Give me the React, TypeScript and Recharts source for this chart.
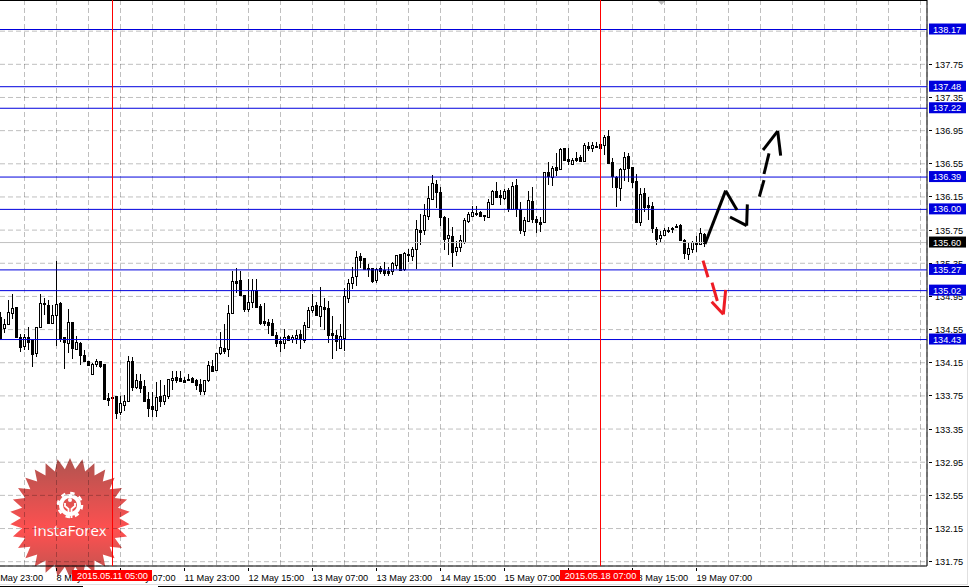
import { Bar, CartesianGrid, ComposedChart, ReferenceLine, XAxis, YAxis } from 'recharts'

const opens = [
  134.697, 134.572, 134.616, 134.745, 134.821, 134.456, 134.355, 134.456, 134.423, 134.271,
  134.584, 134.870, 134.846, 134.632, 134.729, 134.870, 134.456, 134.391, 134.636, 134.319,
  134.383, 134.242, 134.170, 134.017, 134.138, 134.166, 134.130, 133.724, 133.740, 133.748,
  133.559, 133.643, 133.692, 134.166, 133.857, 133.929, 133.869, 133.708, 133.623, 133.583,
  133.744, 133.692, 133.752, 133.937, 133.973, 133.961, 133.937, 133.953, 133.961, 133.937,
  133.893, 133.812, 133.945, 134.110, 134.066, 134.271, 134.323, 134.311, 134.745, 135.135,
  135.147, 134.966, 134.801, 134.886, 135.022, 134.833, 134.653, 134.636, 134.624, 134.480,
  134.407, 134.391, 134.468, 134.431, 134.448, 134.496, 134.419, 134.584, 134.789, 134.846,
  134.717, 134.817, 134.805, 134.504, 134.480, 134.327, 134.448, 134.934, 135.115, 135.191,
  135.432, 135.408, 135.292, 135.288, 135.151, 135.288, 135.264, 135.252, 135.252, 135.328,
  135.461, 135.276, 135.465, 135.436, 135.518, 135.751, 135.747, 135.924, 136.129, 136.306,
  136.210, 135.904, 135.659, 135.675, 135.502, 135.546, 135.611, 135.860, 135.924, 135.952,
  135.964, 135.928, 135.912, 136.069, 136.222, 136.170, 136.137, 136.238, 136.005, 136.290,
  136.005, 135.743, 135.864, 136.097, 135.884, 135.844, 135.844, 136.447, 136.387, 136.511,
  136.491, 136.740, 136.608, 136.551, 136.620, 136.628, 136.588, 136.764, 136.744, 136.764,
  136.785, 136.772, 136.885, 136.568, 136.395, 136.262, 136.491, 136.644, 136.507, 136.338,
  135.844, 136.194, 136.049, 136.037, 135.763, 135.651, 135.691, 135.755, 135.771, 135.804,
  135.812, 135.631, 135.462, 135.522, 135.595, 135.583, 135.707,
]

const closes = [
  134.452, 134.612, 134.757, 134.805, 134.460, 134.343, 134.456, 134.403, 134.259, 134.576,
  134.866, 134.854, 134.632, 134.721, 134.854, 134.452, 134.403, 134.636, 134.331, 134.395,
  134.247, 134.170, 134.122, 134.130, 134.166, 134.114, 133.712, 133.700, 133.732, 133.547,
  133.660, 133.684, 134.166, 133.861, 133.937, 133.845, 133.692, 133.603, 133.595, 133.732,
  133.692, 133.756, 133.949, 133.961, 133.945, 133.933, 133.921, 133.941, 133.921, 133.877,
  133.808, 133.937, 134.118, 134.054, 134.263, 134.335, 134.295, 134.745, 135.135, 135.115,
  134.970, 134.797, 134.882, 135.030, 134.825, 134.632, 134.628, 134.608, 134.488, 134.391,
  134.387, 134.456, 134.423, 134.456, 134.480, 134.435, 134.600, 134.781, 134.829, 134.729,
  134.829, 134.801, 134.488, 134.488, 134.415, 134.468, 134.954, 135.107, 135.183, 135.420,
  135.388, 135.276, 135.284, 135.139, 135.280, 135.260, 135.235, 135.235, 135.348, 135.444,
  135.268, 135.473, 135.457, 135.517, 135.759, 135.731, 135.928, 136.141, 136.314, 136.214,
  135.912, 135.647, 135.687, 135.490, 135.542, 135.627, 135.872, 135.940, 135.964, 135.944,
  135.920, 135.920, 136.085, 136.222, 136.153, 136.153, 136.218, 136.001, 136.278, 136.009,
  135.751, 135.868, 136.109, 135.888, 135.852, 135.828, 136.447, 136.403, 136.499, 136.479,
  136.724, 136.596, 136.588, 136.592, 136.596, 136.580, 136.772, 136.744, 136.772, 136.748,
  136.744, 136.869, 136.563, 136.403, 136.274, 136.487, 136.628, 136.499, 136.334, 135.848,
  136.182, 136.025, 136.033, 135.771, 135.639, 135.687, 135.747, 135.743, 135.759, 135.792,
  135.631, 135.478, 135.534, 135.603, 135.579, 135.711, 135.591,
]

const highs = [
  134.757, 134.673, 134.906, 134.974, 134.821, 134.496, 134.496, 134.584, 134.423, 134.584,
  134.974, 134.926, 134.906, 134.846, 135.376, 134.886, 134.456, 134.793, 134.636, 134.476,
  134.403, 134.303, 134.170, 134.142, 134.190, 134.174, 134.130, 133.780, 133.740, 133.748,
  133.748, 133.760, 134.230, 134.214, 134.013, 134.013, 133.941, 133.792, 133.792, 133.921,
  133.941, 133.881, 133.949, 134.050, 134.050, 134.050, 133.973, 134.009, 133.981, 133.949,
  133.949, 133.945, 134.174, 134.182, 134.263, 134.524, 134.616, 134.846, 135.256, 135.288,
  135.252, 134.966, 135.159, 135.159, 135.159, 134.858, 134.866, 134.673, 134.673, 134.520,
  134.464, 134.552, 134.480, 134.480, 134.544, 134.544, 134.636, 134.821, 134.974, 134.878,
  135.063, 134.926, 134.898, 134.713, 134.544, 134.612, 135.047, 135.155, 135.300, 135.493,
  135.477, 135.408, 135.336, 135.288, 135.292, 135.312, 135.360, 135.308, 135.368, 135.444,
  135.461, 135.489, 135.521, 135.549, 135.872, 135.940, 136.061, 136.282, 136.411, 136.354,
  136.274, 135.920, 135.892, 135.792, 135.623, 135.691, 135.892, 135.964, 136.041, 136.041,
  135.985, 135.928, 136.121, 136.234, 136.330, 136.234, 136.246, 136.254, 136.334, 136.366,
  136.093, 135.912, 136.226, 136.266, 135.920, 135.912, 136.447, 136.576, 136.527, 136.684,
  136.736, 136.744, 136.736, 136.624, 136.688, 136.656, 136.805, 136.809, 136.813, 136.813,
  136.785, 136.897, 136.957, 136.616, 136.403, 136.495, 136.688, 136.676, 136.507, 136.423,
  136.254, 136.254, 136.145, 136.093, 135.784, 135.743, 135.771, 135.784, 135.792, 135.824,
  135.824, 135.639, 135.599, 135.615, 135.679, 135.771, 135.711,
]

const lows = [
  134.423, 134.504, 134.604, 134.677, 134.444, 134.283, 134.303, 134.303, 134.102, 134.222,
  134.584, 134.725, 134.632, 134.632, 134.355, 134.403, 134.078, 134.263, 134.198, 134.303,
  134.126, 134.158, 134.110, 134.017, 134.102, 134.090, 133.700, 133.631, 133.732, 133.471,
  133.515, 133.567, 133.692, 133.804, 133.828, 133.780, 133.684, 133.499, 133.499, 133.499,
  133.611, 133.639, 133.712, 133.820, 133.901, 133.917, 133.917, 133.929, 133.921, 133.820,
  133.760, 133.760, 133.917, 134.042, 134.062, 134.238, 134.255, 134.222, 134.745, 134.994,
  134.970, 134.757, 134.761, 134.805, 134.805, 134.604, 134.592, 134.492, 134.480, 134.343,
  134.275, 134.315, 134.415, 134.383, 134.375, 134.319, 134.383, 134.584, 134.753, 134.721,
  134.580, 134.544, 134.391, 134.194, 134.295, 134.315, 134.291, 134.874, 135.038, 135.075,
  135.296, 135.268, 135.187, 135.107, 135.115, 135.219, 135.199, 135.199, 135.207, 135.276,
  135.256, 135.260, 135.364, 135.372, 135.277, 135.570, 135.691, 135.872, 136.129, 136.017,
  135.800, 135.510, 135.454, 135.309, 135.438, 135.490, 135.579, 135.840, 135.912, 135.920,
  135.912, 135.864, 135.912, 136.057, 136.145, 136.057, 136.113, 135.972, 135.993, 135.912,
  135.703, 135.683, 135.860, 135.832, 135.719, 135.731, 135.840, 136.294, 136.286, 136.403,
  136.487, 136.588, 136.535, 136.531, 136.576, 136.568, 136.576, 136.708, 136.696, 136.748,
  136.744, 136.656, 136.563, 136.254, 136.033, 136.101, 136.342, 136.326, 136.254, 135.840,
  135.804, 135.972, 135.872, 135.719, 135.574, 135.599, 135.683, 135.711, 135.711, 135.771,
  135.623, 135.406, 135.390, 135.470, 135.486, 135.583, 135.546,
]

const priceTicks = [
  131.75, 132.15, 132.55, 132.95, 133.35, 133.75, 134.15, 134.55, 134.95,
  135.35, 135.75, 136.15, 136.55, 136.95, 137.35, 137.75, 138.15,
]
// the 138.15 label sits fully under the 138.17 tag on the original
const unlabelledPrices = [138.15]
const barTicks = [
  -2, 6, 14, 22, 30, 38, 46, 54, 62, 70, 78, 86, 94, 102, 110, 118, 126, 134, 142, 150,
  158, 166, 174, 182, 190, 198, 206, 214, 222, 230,
]
// 142 keeps its tick mark but its label is hidden by the red time tag
const timeLabels: Record<number, string> = {
  [-2]: '7 May 23:00',
  14: '8 May 15:00',
  30: '11 May 07:00',
  46: '11 May 23:00',
  62: '12 May 15:00',
  78: '13 May 07:00',
  94: '13 May 23:00',
  110: '14 May 15:00',
  126: '15 May 07:00',
  142: '',
  158: '18 May 15:00',
  174: '19 May 07:00',
}

const levels = [138.17, 137.48, 137.22, 136.39, 136.0, 135.27, 135.02, 134.43]
const lastPrice = 135.6
const markers = [
  { bar: 28, text: '2015.05.11 05:00' },
  { bar: 150, text: '2015.05.18 07:00' },
]

// hand drawn arrows: [bar, price] per pen stroke
const blackStrokes = [
  [[176.125, 135.583], [181.29, 136.226], [184.125, 135.993]],
  [[182.375, 135.908], [186.54, 135.804], [186.71, 136.061]],
  [[189.71, 136.153], [190.875, 136.354]],
  [[190.875, 136.427], [192.125, 136.676]],
  [[190.625, 136.716], [194.29, 136.945], [195.04, 136.648]],
]
const redStrokes = [
  [[175.625, 135.382], [176.875, 135.181]],
  [[177.875, 135.116], [179.21, 134.895]],
  [[177.79, 134.887], [180.71, 134.734], [181.29, 135.028]],
]

const data = opens.map((open, i) => ({ i, open, close: closes[i], high: highs[i], low: lows[i] }))

const FONT = '"Liberation Sans", Arial, sans-serif'
const BLUE = '#0000dd'
const X_DOMAIN: [number, number] = [-2.125, 231.625]
const Y_DOMAIN: [number, number] = [131.698, 138.526]

const Candle = (props: any) => {
  const { x, y, width, height, payload } = props
  const top = Math.min(y, y + height)
  const h = Math.abs(height)
  const perUnit = h / (payload.high - payload.low)
  const cx = Math.round(x + width / 2 - 0.5) + 0.5
  const up = payload.close >= payload.open
  const bodyTop = Math.round(top + (payload.high - Math.max(payload.open, payload.close)) * perUnit) + 0.5
  const bodyBottom = Math.round(top + (payload.high - Math.min(payload.open, payload.close)) * perUnit) + 0.5
  return (
    <g shapeRendering="crispEdges">
      <line x1={cx} x2={cx} y1={top} y2={top + h} stroke="#000" />
      <rect
        x={cx - 1}
        y={bodyTop}
        width={2}
        height={Math.max(bodyBottom - bodyTop, 1)}
        fill={up ? '#fff' : '#000'}
        stroke="#000"
      />
    </g>
  )
}

const PriceTick = (props: any) => {
  const { x, y, payload } = props
  return (
    <g>
      <line x1={x} x2={x + 3} y1={y} y2={y} stroke="#000" shapeRendering="crispEdges" />
      {!unlabelledPrices.includes(payload.value) && (
        <text x={x + 6} y={y + 3.5} fontSize={9.2} fontFamily={FONT} fill="#000">
          {payload.value.toFixed(2)}
        </text>
      )}
    </g>
  )
}

const TimeTick = (props: any) => {
  const { x, y, payload } = props
  const text = timeLabels[payload.value]
  if (text === undefined) return <g />
  return (
    <g>
      <line x1={x} x2={x} y1={y} y2={y + 3} stroke="#000" shapeRendering="crispEdges" />
      {text && (
        <text x={x} y={y + 12.5} fontSize={9.2} fontFamily={FONT} fill="#000">
          {text}
        </text>
      )}
    </g>
  )
}

const priceTag = (value: number, fill: string) => (props: any) => {
  const { viewBox } = props
  return (
    <g>
      <rect x={929} y={viewBox.y - 6} width={37} height={11} fill={fill} />
      <text x={933} y={viewBox.y + 3} fontSize={9.2} fontFamily={FONT} fill="#fff">
        {value.toFixed(2)}
      </text>
    </g>
  )
}

const timeTag = (text: string) => (props: any) => {
  const { viewBox } = props
  return (
    <g>
      <rect x={viewBox.x - 40.5} y={570} width={80} height={11} fill="#ff0000" />
      <text x={viewBox.x} y={579} textAnchor="middle" fontSize={9.2} fontFamily={FONT} fill="#fff">
        {text}
      </text>
    </g>
  )
}

const starPoints = () => {
  const pts: string[] = []
  const teeth = 30
  for (let k = 0; k < teeth * 2; k++) {
    const r = k % 2 === 0 ? 60 : 49
    const a = (Math.PI * k) / teeth - Math.PI / 2
    pts.push(`${70 + r * Math.cos(a)},${518 + r * Math.sin(a)}`)
  }
  return pts.join(' ')
}

// page furniture and the logo, behind the transparent chart
const Backdrop = () => (
  <svg width={969} height={588} style={{ position: 'absolute', left: 0, top: 0 }}>
    <defs>
      <linearGradient id="star" x1="0" y1="0" x2="0" y2="1">
        <stop offset="0" stopColor="#b05450" />
        <stop offset="0.6" stopColor="#ff5050" />
        <stop offset="1" stopColor="#bc5450" />
      </linearGradient>
    </defs>
    <polygon points={starPoints()} fill="url(#star)" />
    <circle cx={70} cy={505} r={9} fill="none" stroke="#fff" strokeWidth={4} />
    <circle cx={70} cy={505} r={12} fill="none" stroke="#fff" strokeWidth={2.5} strokeDasharray="4.4 5" />
    <circle cx={70} cy={500} r={2} fill="#fff" />
    <path d="M65 503 L65 506 L68.5 509 L68.5 518 M75 503 L75 506 L71.5 509 L71.5 518" fill="none" stroke="#fff" strokeWidth={1.8} />
    <text x={70} y={536} textAnchor="middle" fontSize={15} fontFamily='"Open Sans", sans-serif' fill="#fff">
      InstaForex
    </text>
    <polygon points="657,0 666,0 661.5,5" fill="#bbb" />
    <line x1={0} x2={927} y1={0.5} y2={0.5} stroke="#000" />
    <line x1={0} x2={967} y1={584.5} y2={584.5} stroke="#e0e0e0" />
    <line x1={967.5} x2={967.5} y1={360} y2={585} stroke="#e0e0e0" />
    <line x1={0} x2={83} y1={586.5} y2={586.5} stroke="#000" />
    <line x1={158} x2={969} y1={586.5} y2={586.5} stroke="#000" />
  </svg>
)

const strokeSegments = (strokes: number[][][], color: string, prefix: string) =>
  strokes.flatMap((pts, s) =>
    pts.slice(1).map((p, k) => (
      <ReferenceLine
        key={`${prefix}-${s}-${k}`}
        segment={[
          { x: pts[k][0], y: pts[k][1] },
          { x: p[0], y: p[1] },
        ]}
        stroke={color}
        strokeWidth={3}
      />
    )),
  )

const layer = { position: 'absolute', left: 0, top: 0 } as const

export default function App() {
  return (
    <div style={{ position: 'absolute', left: 0, top: 0, width: 969, height: 588, background: '#fff' }}>
      <Backdrop />
      <div style={layer}>
        <ComposedChart width={969} height={588} data={data} margin={{ top: 0, right: 0, bottom: 0, left: -8 }}>
          <CartesianGrid stroke="#000" strokeOpacity={0.25} strokeDasharray="5 3" />
          <XAxis
            type="number"
            dataKey="i"
            domain={X_DOMAIN}
            allowDataOverflow
            ticks={barTicks}
            interval={0}
            height={22}
            tickLine={false}
            tickSize={0}
            tick={TimeTick}
            stroke="#000"
          />
          <YAxis
            orientation="right"
            type="number"
            domain={Y_DOMAIN}
            allowDataOverflow
            ticks={priceTicks}
            interval={0}
            width={42}
            tickLine={false}
            tickSize={0}
            tick={PriceTick}
            stroke="#000"
          />
          <ReferenceLine y={lastPrice} stroke="#c0c0c0" />
          <Bar dataKey={(d: any) => [d.low, d.high]} barSize={3} shape={Candle} isAnimationActive={false} />
        </ComposedChart>
      </div>
      {/* second chart on the same scales so the price and time tags cover the axis labels */}
      <div style={layer}>
        <ComposedChart width={969} height={588} data={data} margin={{ top: 0, right: 42, bottom: 22, left: -8 }}>
          <XAxis hide type="number" dataKey="i" domain={X_DOMAIN} allowDataOverflow />
          <YAxis hide type="number" domain={Y_DOMAIN} allowDataOverflow />
          <ReferenceLine y={lastPrice} stroke="none" label={priceTag(lastPrice, '#000')} />
          {levels.map(v => (
            <ReferenceLine key={v} y={v} stroke={BLUE} label={priceTag(v, BLUE)} />
          ))}
          {markers.map(m => (
            <ReferenceLine key={m.bar} x={m.bar} stroke="#ff0000" label={timeTag(m.text)} />
          ))}
          {strokeSegments(blackStrokes, '#000', 'up')}
          {strokeSegments(redStrokes, '#ee1c25', 'down')}
        </ComposedChart>
      </div>
    </div>
  )
}
